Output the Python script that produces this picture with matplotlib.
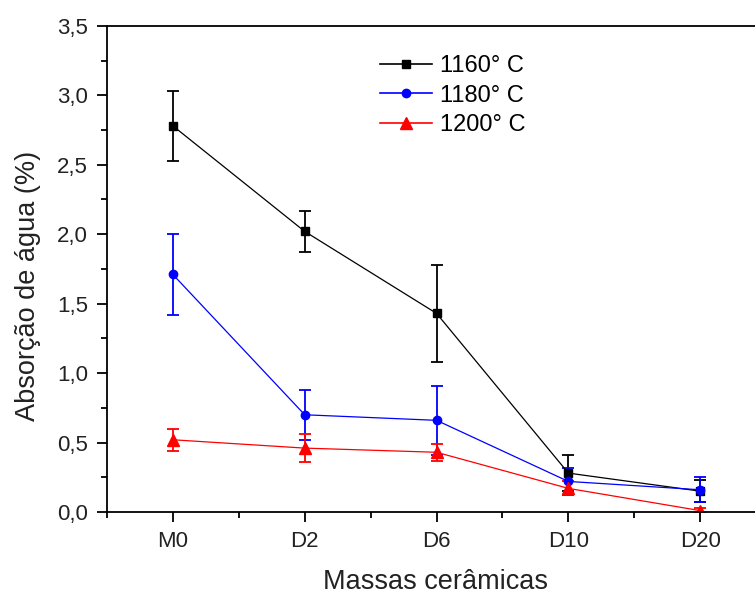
import matplotlib
matplotlib.use("Agg")
import matplotlib.pyplot as plt
from matplotlib.lines import Line2D
from matplotlib.ticker import FuncFormatter, MultipleLocator

plt.rcParams['font.family'] = ['Liberation Sans', 'DejaVu Sans']

massas = ["M0", "D2", "D6", "D10", "D20"]

t1160 = [2.78, 2.02, 1.43, 0.28, 0.15]
e1160 = [0.25, 0.15, 0.35, 0.13, 0.08]
t1180 = [1.71, 0.70, 0.66, 0.22, 0.16]
e1180 = [0.29, 0.18, 0.25, 0.10, 0.09]
t1200 = [0.52, 0.46, 0.43, 0.17, 0.01]
e1200 = [0.08, 0.10, 0.06, 0.05, 0.02]

fig = plt.figure(figsize=(7.55, 5.95), dpi=100)
ax = fig.add_axes([0.1417, 0.1395, 0.873, 0.817])

x = range(len(massas))
series = [
    (t1160, e1160, "black", "s", 6, "1160° C"),
    (t1180, e1180, "blue", "o", 6, "1180° C"),
    (t1200, e1200, "red", "^", 8, "1200° C"),
]
handles = []
for vals, errs, c, m, ms, lab in series:
    ax.errorbar(x, vals, yerr=errs, color=c, marker=m, markersize=ms,
                linewidth=0.9, elinewidth=1.3, capsize=4.5, capthick=1.3)
    handles.append(Line2D([], [], color=c, marker=m, markersize=ms, linewidth=1.2, label=lab))

ax.set_xlim(-0.5, 4.5)
ax.set_ylim(0, 3.5)
ax.set_xticks(list(x))
ax.set_xticklabels(massas)
ax.xaxis.set_minor_locator(MultipleLocator(0.5))
ax.yaxis.set_major_locator(MultipleLocator(0.5))
ax.yaxis.set_minor_locator(MultipleLocator(0.25))
ax.yaxis.set_major_formatter(FuncFormatter(lambda v, p: f"{v:.1f}".replace(".", ",")))

ax.spines['right'].set_visible(False)
for s in ['left', 'bottom', 'top']:
    ax.spines[s].set_linewidth(1.3)
ax.tick_params(which='major', direction='out', length=7.5, width=1.3, labelsize=16, pad=6,
               labelcolor='#222222')
ax.tick_params(which='minor', direction='out', length=4, width=1.3)

ax.set_xlabel("Massas cerâmicas", fontsize=19.5, color='#222222')
ax.set_ylabel("Absorção de água (%)", fontsize=19.5, color='#222222')
ax.xaxis.set_label_coords(0.498, -0.117)
ax.yaxis.set_label_coords(-0.10, 0.466)

ax.legend(handles=handles, loc='upper left', bbox_to_anchor=(0.414, 0.94), frameon=False,
          borderpad=0, borderaxespad=0, fontsize=17, handlelength=2.2,
          handletextpad=0.35, labelspacing=0.32)

fig.savefig("out.png", dpi=100)
